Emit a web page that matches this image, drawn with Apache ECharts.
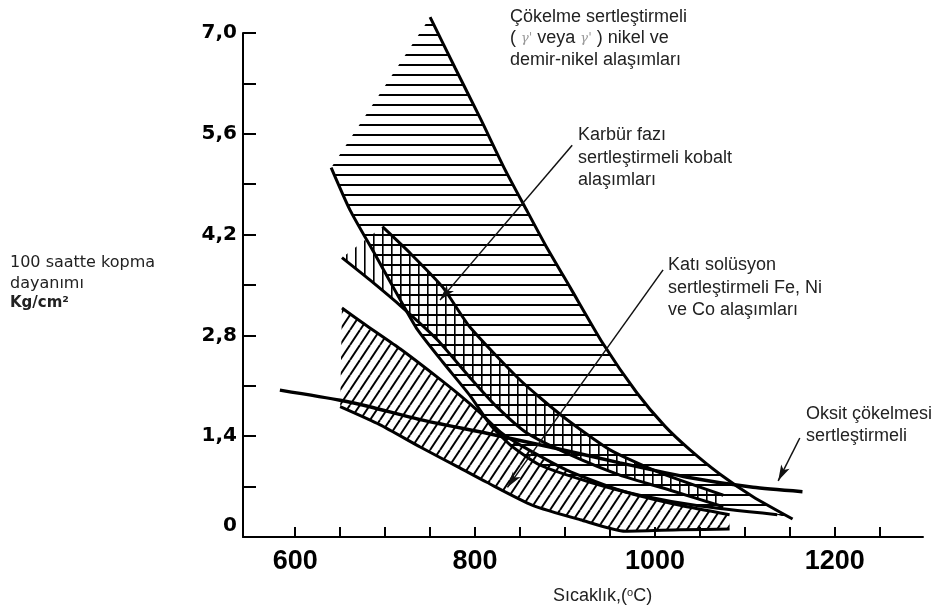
<!DOCTYPE html>
<html><head><meta charset="utf-8">
<script src="https://cdn.jsdelivr.net/npm/echarts@6/dist/echarts.min.js"></script>
<style>html,body{margin:0;padding:0;background:#fff}#c{width:940px;height:612px}</style>
</head><body><div id="c"></div>
<script>
// ---- data ----
const xLabelValues = [600, 800, 1000, 1200];
const xTickValues = [600, 650, 700, 750, 800, 850, 900, 950, 1000, 1050, 1100, 1150, 1200, 1250];
const yLabelTexts = ['0', '1,4', '2,8', '4,2', '5,6', '7,0'];

// γ' precipitation hardened Ni and Fe-Ni alloys (horizontal hatch)
const gammaUpper = [[750,7.22],[778,6.51],[806,5.81],[833,5.11],[856,4.57],[878,4.06],[906,3.46],[942,2.69],[980,2.00],[1011,1.54],[1039,1.21],[1072,0.875],[1109,0.56],[1153,0.25]];
const gammaLower = [[640,5.13],[661,4.54],[689,3.92],[717,3.29],[736,2.88],[764,2.43],[794,1.97],[817,1.56],[839,1.28],[872,1.00],[928,0.76],[983,0.58],[1050,0.43],[1136,0.31]];
// carbide hardened cobalt alloys (vertical hatch)
const carbideUpper = [[697,4.31],[728,3.94],[764,3.47],[794,2.92],[850,2.18],[898,1.67],[950,1.21],[1006,0.89],[1076,0.58]];
const carbideLower = [[652,3.88],[683,3.57],[719,3.19],[758,2.74],[794,2.22],[824,1.81],[858,1.44],[906,1.14],[961,0.86],[1017,0.65],[1076,0.42]];
// solid solution hardened Fe, Ni, Co alloys (diagonal hatch)
const solidUpper = [[652,3.18],[680,2.93],[717,2.61],[758,2.22],[783,1.97],[806,1.72],[828,1.46],[850,1.28],[902,0.93],[961,0.65],[1028,0.44],[1083,0.31]];
const solidLower = [[650,1.81],[694,1.56],[739,1.25],[783,0.96],[813,0.76],[864,0.44],[917,0.24],[967,0.08],[1028,0.10],[1083,0.11]];
// oxide dispersion hardened
const oxide = [[583,2.04],[650,1.90],[683,1.81],[739,1.63],[813,1.44],[887,1.24],[961,1.03],[1036,0.83],[1109,0.69],[1164,0.63]];
// annotation arrows [from, to]
const arrows = [
  [[822,7.14],[759,5.76]],
  [[908,5.44],[761,3.29]],
  [[1009,3.71],[836,0.69]],
  [[1161,1.375],[1137,0.78]]
];

// ---- hatch patterns ----
function makePattern(kind){
  const c = document.createElement('canvas');
  let w = 10, h = 10;
  if (kind === 'v') { w = 9; h = 9; }
  if (kind === 'd') { w = 10; h = 15; }
  c.width = w; c.height = h;
  const g = c.getContext('2d');
  g.strokeStyle = '#000'; g.fillStyle = '#000';
  if (kind === 'h') { g.fillRect(0, 4, w, 2); }
  else if (kind === 'v') { g.fillRect(4, 0, 1.6, h); }
  else {
    g.lineWidth = 2;
    for (let k = -1; k <= 1; k++) {
      g.beginPath(); g.moveTo(k*w, h); g.lineTo((k+1)*w, 0); g.stroke();
    }
  }
  return {image: c, repeat: 'repeat'};
}

function bandSeries(upper, lower, kind){
  const poly = upper.concat(lower.slice().reverse());
  const pat = makePattern(kind);
  return {
    type: 'custom', coordinateSystem: 'cartesian2d', clip: false, silent: true, z: 1,
    data: poly,
    renderItem: function(params, api){
      if (params.dataIndex !== 0) return null;
      const pts = poly.map(p => api.coord(p));
      return {type: 'polygon', shape: {points: pts}, style: {fill: pat, stroke: null}};
    }
  };
}
function curve(data, width){
  return {type: 'line', data: data, symbol: 'none', showSymbol: false, smooth: 0.2, clip: false,
    silent: true, z: 3, lineStyle: {color: '#000', width: width || 3}};
}

const chart = echarts.init(document.getElementById('c'), null, {renderer: 'canvas'});
const txt = {fontFamily: 'Liberation Sans, Arial, sans-serif', fontSize: 18, fill: '#222'};

const option = {
  animation: false,
  backgroundColor: '#fff',
  grid: {left: 243, right: 17, top: 33, bottom: 75},
  xAxis: {
    type: 'value', min: 542, max: 1298,
    axisLine: {show: true, onZero: false, lineStyle: {color: '#000', width: 2}},
    axisTick: {show: true, inside: true, length: 10, customValues: xTickValues, lineStyle: {color: '#000', width: 2}},
    axisLabel: {customValues: xLabelValues, margin: 11, color: '#000',
      formatter: function(v){ return String(v); },
      fontFamily: 'Liberation Sans, Arial, sans-serif', fontWeight: 'bold', fontSize: 27},
    splitLine: {show: false}
  },
  yAxis: {
    type: 'value', min: 0, max: 7, interval: 0.7,
    axisLine: {show: true, lineStyle: {color: '#000', width: 2}},
    axisTick: {show: true, inside: true, length: 13, lineStyle: {color: '#000', width: 2}},
    axisLabel: {
      margin: 6, color: '#000', fontFamily: 'DejaVu Sans, sans-serif', fontWeight: 'bold', fontSize: 20,
      formatter: function(v){
        const k = Math.round(v / 0.7);
        if (k % 2) return '';
        const s = yLabelTexts[k / 2];
        return k === 0 ? '{z|' + s + '}' : s;
      },
      rich: {z: {fontFamily: 'DejaVu Sans, sans-serif', fontWeight: 'bold', fontSize: 20, color: '#000', padding: [0, 0, 22, 0]}}
    },
    splitLine: {show: false}
  },
  series: [
    bandSeries(solidUpper, solidLower, 'd'),
    bandSeries(carbideUpper, carbideLower, 'v'),
    bandSeries(gammaUpper, gammaLower, 'h'),
    curve(gammaUpper), curve(gammaLower),
    curve(carbideUpper), curve(carbideLower),
    curve(solidUpper), curve(solidLower),
    Object.assign(curve(oxide, 3.5), {
      markLine: {
        silent: true, animation: false, symbol: ['none', 'arrow'],
        label: {show: false},
        lineStyle: {color: '#111', width: 1.5, type: 'solid'},
        data: arrows.map(a => [{coord: a[0], symbol: 'none'}, {coord: a[1], symbol: 'arrow', symbolSize: [7, 16]}])
      }
    })
  ],
  graphic: [
    {type: 'text', left: 510, top: 6, style: Object.assign({}, txt, {
      text: "Çökelme sertleştirmeli\n( {g|γ'} veya {g|γ'} ) nikel ve\ndemir-nikel alaşımları", lineHeight: 21.5,
      rich: {g: {fontFamily: 'DejaVu Serif, serif', fontStyle: 'italic', fontSize: 13, fill: '#999', lineHeight: 21.5}}})},
    {type: 'text', left: 578, top: 124, style: Object.assign({}, txt, {
      text: 'Karbür fazı\nsertleştirmeli kobalt\nalaşımları', lineHeight: 22.5})},
    {type: 'text', left: 668, top: 254, style: Object.assign({}, txt, {
      text: 'Katı solüsyon\nsertleştirmeli Fe, Ni\nve Co alaşımları', lineHeight: 22.5})},
    {type: 'text', left: 806, top: 403, style: Object.assign({}, txt, {
      text: 'Oksit çökelmesi\nsertleştirmeli', lineHeight: 22})},
    {type: 'text', left: 10, top: 252, style: {
      text: '100 saatte kopma\ndayanımı\n{b|Kg/cm²}', fontFamily: 'DejaVu Sans, sans-serif', fontSize: 16, fill: '#222', lineHeight: 21,
      rich: {b: {fontFamily: 'DejaVu Sans, sans-serif', fontWeight: 'bold', fontSize: 15, fill: '#222', lineHeight: 19}}}},
    {type: 'text', left: 553, top: 587, style: {
      text: 'Sıcaklık,({s|o}C)', fontFamily: 'Liberation Sans, Arial, sans-serif', fontSize: 18, fill: '#222',
      rich: {s: {fontFamily: 'Liberation Sans, Arial, sans-serif', fontSize: 11, fill: '#222', verticalAlign: 'top', padding: [0, 0, 8, 0]}}}}
  ]
};
chart.setOption(option);
</script>
</body></html>
